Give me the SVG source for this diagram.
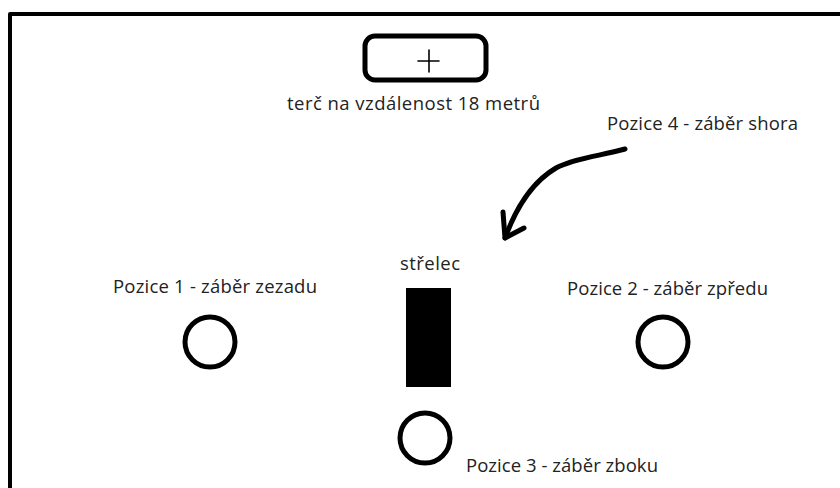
<svg xmlns="http://www.w3.org/2000/svg" width="840" height="488" viewBox="0 0 840 488">
  <style>
    .lbl { font-family: "Open Sans", "Noto Sans", sans-serif; font-size: 18.5px; fill: #222; }
    .spot { fill: none; stroke: #000; stroke-width: 5; }
    .ink { fill: none; stroke: #000; stroke-linecap: round; stroke-linejoin: round; }
  </style>
  <rect width="840" height="488" fill="#fff"/>
  <!-- frame -->
  <path d="M10,488 V14 H840" class="ink" stroke-width="4" stroke-linecap="butt"/>

  <g id="target">
    <rect x="365" y="36" width="121" height="44" rx="10" class="spot"/>
    <path d="M418,61 H439 M429,50 V72" class="ink" stroke-width="1.6"/>
    <text class="lbl" x="287" y="110" textLength="253">terč na vzdálenost 18 metrů</text>
  </g>

  <g id="shooter">
    <text class="lbl" x="400" y="270" textLength="60">střelec</text>
    <rect x="406" y="288" width="45" height="99" fill="#000"/>
  </g>

  <g id="pos1">
    <circle cx="210" cy="342" r="25" class="spot"/>
    <text class="lbl" x="113" y="293" textLength="204">Pozice 1 - záběr zezadu</text>
  </g>

  <g id="pos2">
    <circle cx="663" cy="342" r="25" class="spot"/>
    <text class="lbl" x="567" y="295" textLength="201">Pozice 2 - záběr zpředu</text>
  </g>

  <g id="pos3">
    <circle cx="425" cy="438" r="25" class="spot"/>
    <text class="lbl" x="466" y="472" textLength="192">Pozice 3 - záběr zboku</text>
  </g>

  <g id="pos4">
    <text class="lbl" x="607" y="130" textLength="191">Pozice 4 - záběr shora</text>
  </g>

  <g id="connectors">
    <path d="M625,149 C600,156 575,158 556,168 C532,182 516,208 505,238" class="ink" stroke-width="5"/>
    <path d="M503,212 L505,238 L524,228" class="ink" stroke-width="5"/>
  </g>
</svg>
